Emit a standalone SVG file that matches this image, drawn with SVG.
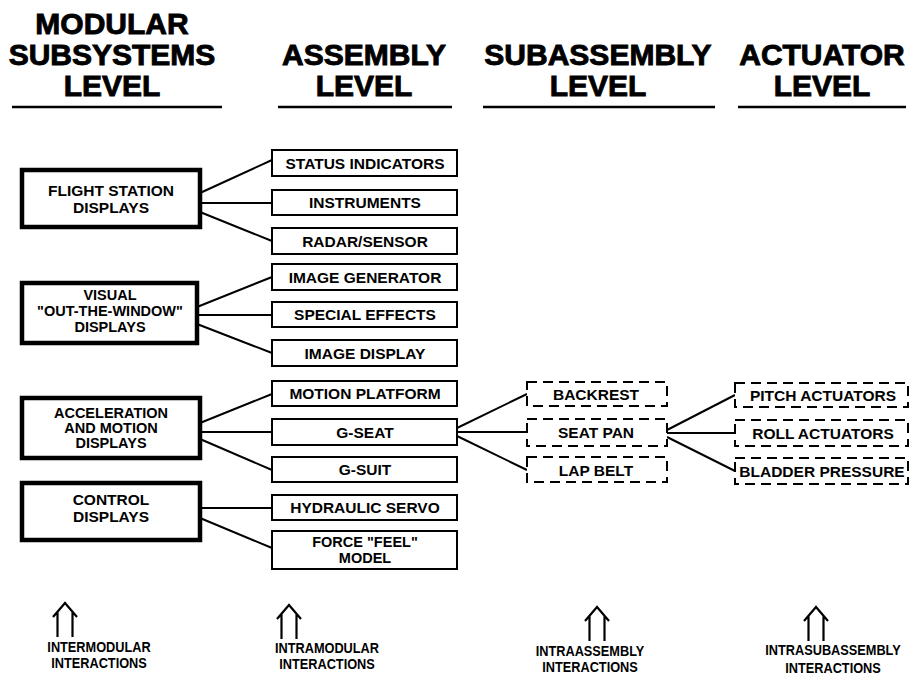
<svg xmlns="http://www.w3.org/2000/svg" width="917" height="682" viewBox="0 0 917 682">
  <style>
    .hdr { font-family: "Liberation Sans", Arial, sans-serif; font-weight: bold; font-size: 30px; text-anchor: middle; fill: #000; stroke: #000; stroke-width: 0.9; }
    .lbl { font-family: "Liberation Sans", Arial, sans-serif; font-weight: bold; font-size: 15.5px; text-anchor: middle; fill: #000; }
    .sm { font-size: 14.5px; }
    .foot { font-family: "Liberation Sans", Arial, sans-serif; font-weight: bold; font-size: 15px; text-anchor: middle; fill: #000; }
    .rule { stroke: #000; stroke-width: 2.5; }
    .mod { fill: #fff; stroke: #000; stroke-width: 4.5; }
    .asm { fill: #fff; stroke: #000; stroke-width: 2; }
    .sub { fill: #fff; stroke: #000; stroke-width: 2; stroke-dasharray: 10 6; }
    .conn line { stroke: #000; stroke-width: 2; }
    .icon { fill: none; stroke: #000; stroke-width: 2.2; stroke-linejoin: miter; }
  </style>
  <defs>
    <path id="upArrows" class="icon" d="M -12,14 L 0,0 L 12,14 M -7.5,8.5 V 34 M 7.5,8.5 V 34"/>
  </defs>
  <rect width="917" height="682" fill="#fff"/>

  <!-- column headings -->
  <g id="headings">
    <text class="hdr" x="112" y="34">MODULAR</text>
    <text class="hdr" x="112" y="65">SUBSYSTEMS</text>
    <text class="hdr" x="112" y="96">LEVEL</text>
    <line class="rule" x1="12" y1="107" x2="222" y2="107"/>
    <text class="hdr" x="364" y="65">ASSEMBLY</text>
    <text class="hdr" x="364" y="96">LEVEL</text>
    <line class="rule" x1="278" y1="107" x2="452" y2="107"/>
    <text class="hdr" x="598" y="65">SUBASSEMBLY</text>
    <text class="hdr" x="598" y="96">LEVEL</text>
    <line class="rule" x1="483" y1="107" x2="715" y2="107"/>
    <text class="hdr" x="822" y="65">ACTUATOR</text>
    <text class="hdr" x="822" y="96">LEVEL</text>
    <line class="rule" x1="738" y1="107" x2="906" y2="107"/>
  </g>

  <!-- connectors -->
  <g id="connectors" class="conn">
    <line x1="200" y1="193" x2="272" y2="160"/>
    <line x1="200" y1="203" x2="272" y2="203"/>
    <line x1="200" y1="212" x2="272" y2="241"/>
    <line x1="197" y1="307" x2="272" y2="277"/>
    <line x1="197" y1="315" x2="272" y2="315"/>
    <line x1="197" y1="324" x2="272" y2="353"/>
    <line x1="200" y1="423" x2="272" y2="394"/>
    <line x1="200" y1="432" x2="272" y2="432"/>
    <line x1="200" y1="439" x2="272" y2="470"/>
    <line x1="200" y1="508" x2="272" y2="508"/>
    <line x1="200" y1="518" x2="272" y2="548"/>
    <line x1="457" y1="428" x2="527" y2="394"/>
    <line x1="457" y1="432" x2="527" y2="432"/>
    <line x1="457" y1="436" x2="527" y2="470"/>
    <line x1="667" y1="430" x2="735" y2="395"/>
    <line x1="667" y1="433" x2="735" y2="433"/>
    <line x1="667" y1="437" x2="735" y2="471"/>
  </g>

  <!-- modular subsystems -->
  <g id="flight-station">
    <rect class="mod" x="22" y="170" width="178" height="57"/>
    <text class="lbl" x="111" y="196">FLIGHT STATION</text>
    <text class="lbl" x="111" y="213">DISPLAYS</text>
  </g>
  <g id="visual">
    <rect class="mod" x="22" y="283" width="175" height="60"/>
    <text class="lbl sm" x="110" y="300">VISUAL</text>
    <text class="lbl sm" x="110" y="316">"OUT-THE-WINDOW"</text>
    <text class="lbl sm" x="110" y="332">DISPLAYS</text>
  </g>
  <g id="acceleration">
    <rect class="mod" x="22" y="398" width="178" height="60"/>
    <text class="lbl sm" x="111" y="418">ACCELERATION</text>
    <text class="lbl sm" x="111" y="433">AND MOTION</text>
    <text class="lbl sm" x="111" y="448">DISPLAYS</text>
  </g>
  <g id="control">
    <rect class="mod" x="22" y="483" width="178" height="57"/>
    <text class="lbl" x="111" y="505">CONTROL</text>
    <text class="lbl" x="111" y="522">DISPLAYS</text>
  </g>

  <!-- assemblies -->
  <g id="status-indicators"><rect class="asm" x="272" y="150" width="185" height="26"/><text class="lbl" x="365" y="169">STATUS INDICATORS</text></g>
  <g id="instruments"><rect class="asm" x="272" y="190" width="185" height="25"/><text class="lbl" x="365" y="208">INSTRUMENTS</text></g>
  <g id="radar-sensor"><rect class="asm" x="272" y="228" width="185" height="26"/><text class="lbl" x="365" y="247">RADAR/SENSOR</text></g>
  <g id="image-generator"><rect class="asm" x="272" y="264" width="185" height="26"/><text class="lbl" x="365" y="283">IMAGE GENERATOR</text></g>
  <g id="special-effects"><rect class="asm" x="272" y="302" width="185" height="25"/><text class="lbl" x="365" y="320">SPECIAL EFFECTS</text></g>
  <g id="image-display"><rect class="asm" x="272" y="340" width="185" height="26"/><text class="lbl" x="365" y="359">IMAGE DISPLAY</text></g>
  <g id="motion-platform"><rect class="asm" x="272" y="381" width="185" height="25"/><text class="lbl" x="365" y="399">MOTION PLATFORM</text></g>
  <g id="g-seat"><rect class="asm" x="272" y="419" width="185" height="26"/><text class="lbl" x="365" y="438">G-SEAT</text></g>
  <g id="g-suit"><rect class="asm" x="272" y="457" width="185" height="25"/><text class="lbl" x="365" y="475">G-SUIT</text></g>
  <g id="hydraulic-servo"><rect class="asm" x="272" y="495" width="185" height="25"/><text class="lbl" x="365" y="513">HYDRAULIC SERVO</text></g>
  <g id="force-feel"><rect class="asm" x="272" y="531" width="185" height="38"/><text class="lbl sm" x="365" y="547">FORCE "FEEL"</text><text class="lbl sm" x="365" y="563">MODEL</text></g>

  <!-- subassemblies -->
  <g id="backrest"><rect class="sub" x="527" y="382" width="140" height="24"/><text class="lbl" x="596" y="400">BACKREST</text></g>
  <g id="seat-pan"><rect class="sub" x="527" y="419" width="140" height="27"/><text class="lbl" x="596" y="438">SEAT PAN</text></g>
  <g id="lap-belt"><rect class="sub" x="527" y="457" width="140" height="25"/><text class="lbl" x="596" y="476">LAP BELT</text></g>

  <!-- actuators -->
  <g id="pitch-actuators"><rect class="sub" x="735" y="383" width="173" height="24"/><text class="lbl" x="823" y="401">PITCH ACTUATORS</text></g>
  <g id="roll-actuators"><rect class="sub" x="735" y="420" width="173" height="26"/><text class="lbl" x="823" y="439">ROLL ACTUATORS</text></g>
  <g id="bladder-pressure"><rect class="sub" x="735" y="458" width="173" height="26"/><text class="lbl" x="822" y="477">BLADDER PRESSURE</text></g>

  <!-- interaction labels (narrowed lettering) -->
  <g id="intermodular">
    <use href="#upArrows" x="65" y="603"/>
    <g transform="translate(99,0) scale(0.85,1)">
      <text class="foot" x="0" y="652">INTERMODULAR</text>
      <text class="foot" x="0" y="668">INTERACTIONS</text>
    </g>
  </g>
  <g id="intramodular">
    <use href="#upArrows" x="289" y="605"/>
    <g transform="translate(327,0) scale(0.85,1)">
      <text class="foot" x="0" y="653">INTRAMODULAR</text>
      <text class="foot" x="0" y="669">INTERACTIONS</text>
    </g>
  </g>
  <g id="intraassembly">
    <use href="#upArrows" x="597" y="607"/>
    <g transform="translate(590,0) scale(0.85,1)">
      <text class="foot" x="0" y="656">INTRAASSEMBLY</text>
      <text class="foot" x="0" y="672">INTERACTIONS</text>
    </g>
  </g>
  <g id="intrasubassembly">
    <use href="#upArrows" x="816" y="607"/>
    <g transform="translate(833,0) scale(0.85,1)">
      <text class="foot" x="0" y="655">INTRASUBASSEMBLY</text>
      <text class="foot" x="0" y="673">INTERACTIONS</text>
    </g>
  </g>
</svg>
